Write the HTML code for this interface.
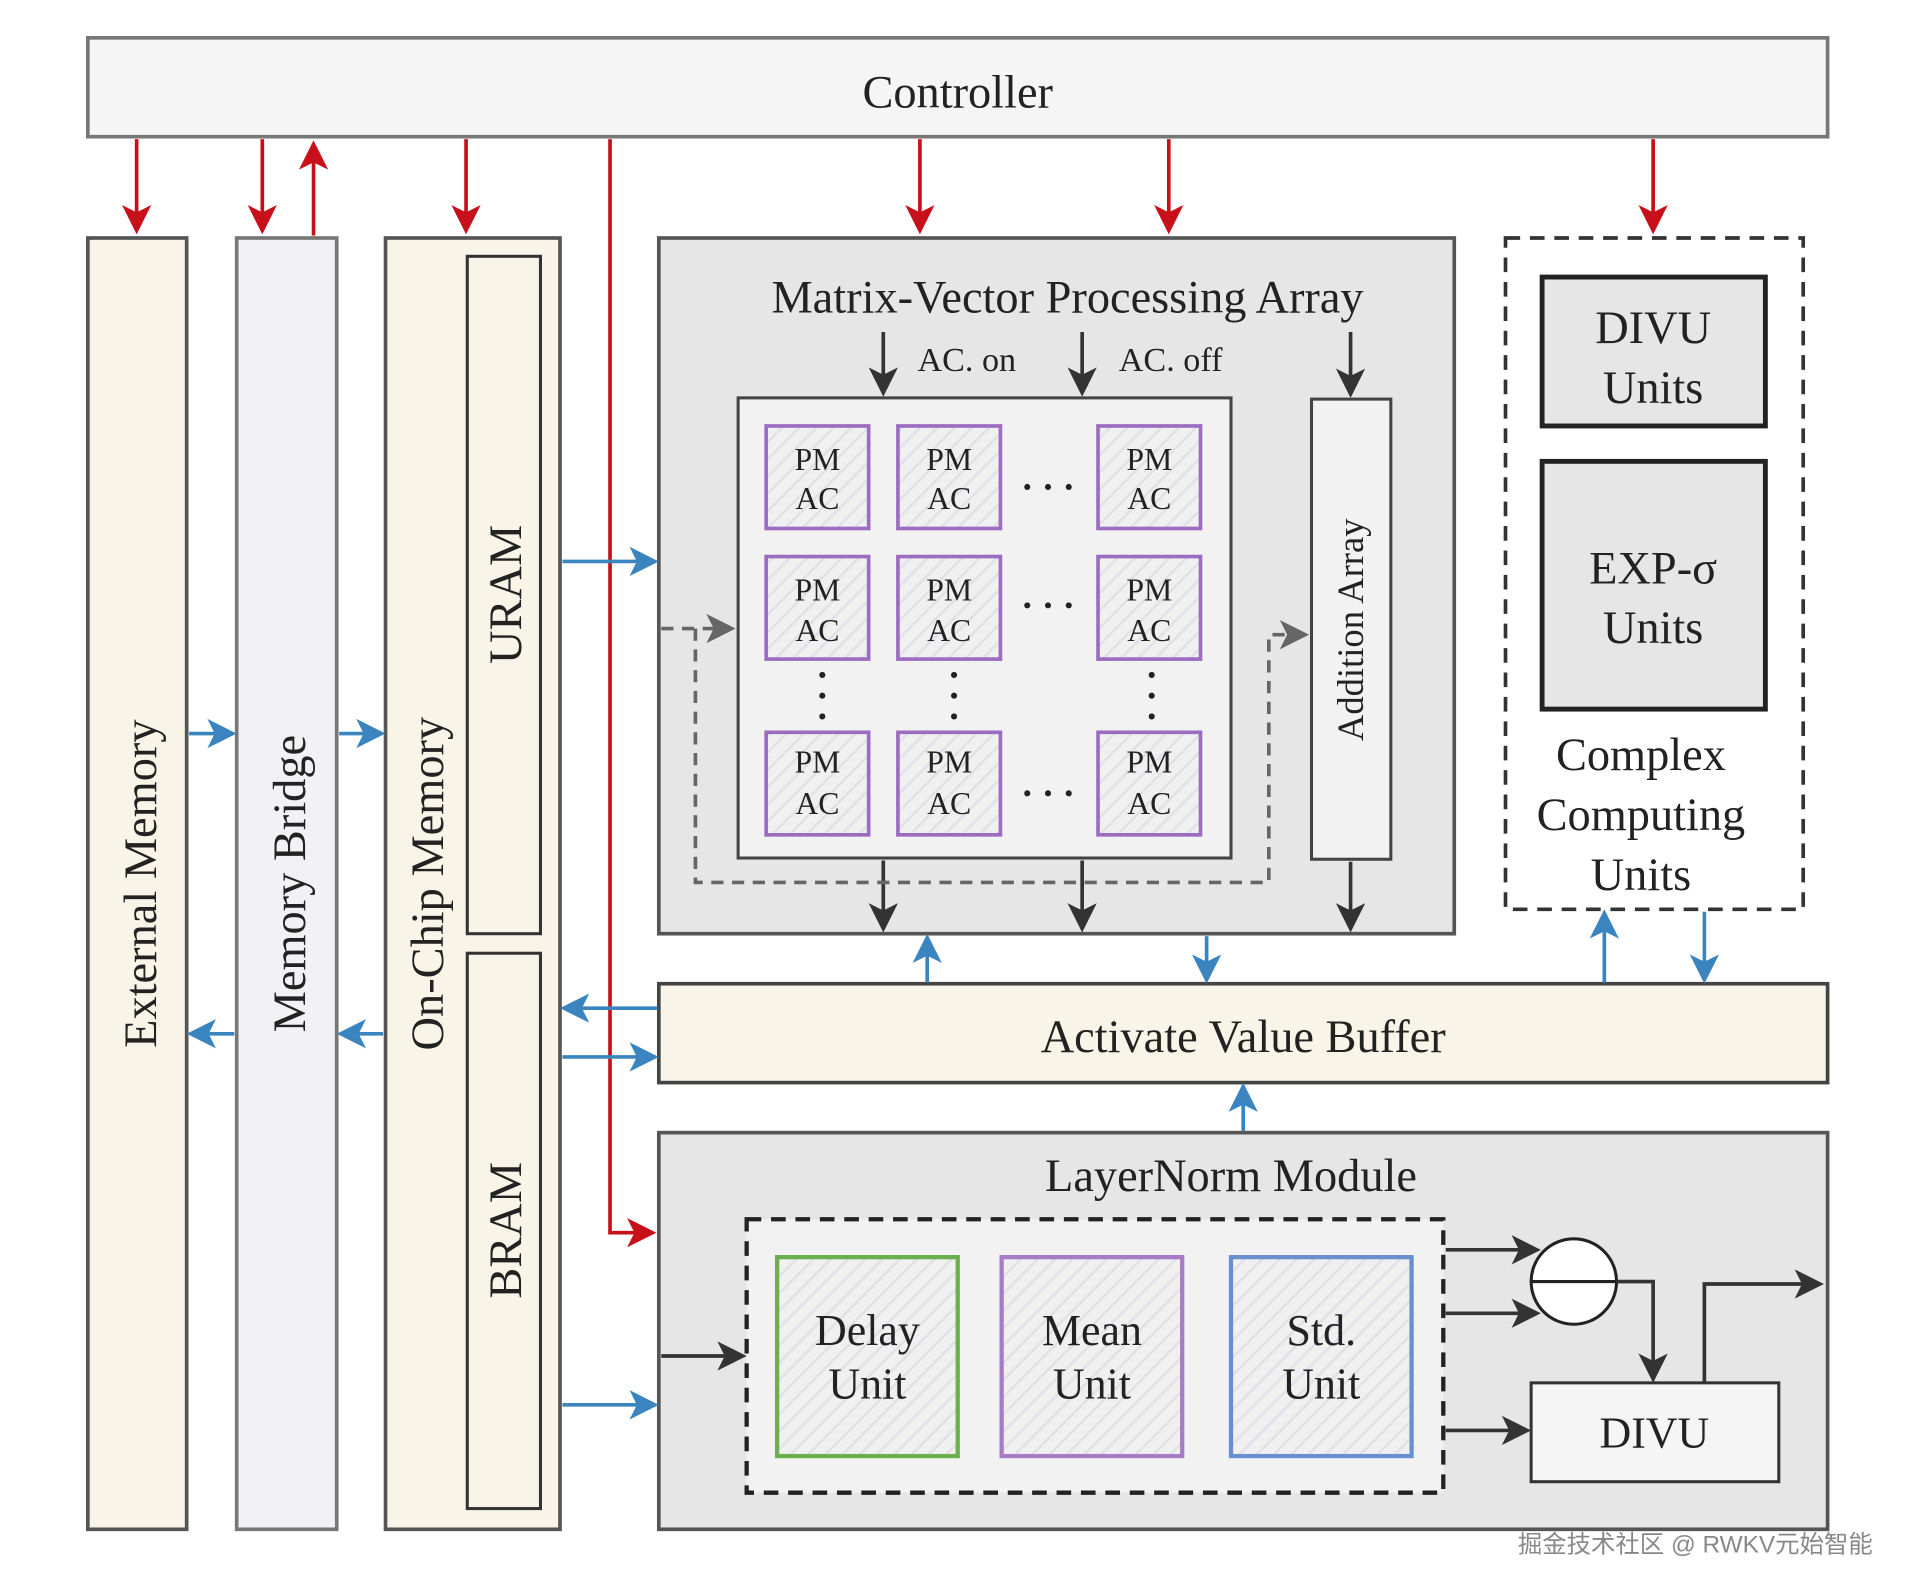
<!DOCTYPE html>
<html><head><meta charset="utf-8"><style>html,body{margin:0;padding:0;background:#fff}svg{display:block}</style></head><body>
<svg width="1913" height="1594" viewBox="0 0 1568 1306" preserveAspectRatio="none" xmlns="http://www.w3.org/2000/svg" font-family="Liberation Serif, serif">
<defs>
<marker id="r" markerWidth="8" markerHeight="8" refX="7" refY="4" orient="auto" viewBox="0 0 8 8"><path d="M0,0 L8,4 L0,8 L2,4 z" fill="#c8101a"/></marker>
<marker id="b" markerWidth="8" markerHeight="8" refX="7" refY="4" orient="auto" viewBox="0 0 8 8"><path d="M0,0 L8,4 L0,8 L2,4 z" fill="#3a85c0"/></marker>
<marker id="k" markerWidth="8" markerHeight="8" refX="7" refY="4" orient="auto" viewBox="0 0 8 8"><path d="M0,0 L8,4 L0,8 L2,4 z" fill="#333"/></marker>
<marker id="g" markerWidth="8" markerHeight="8" refX="7" refY="4" orient="auto" viewBox="0 0 8 8"><path d="M0,0 L8,4 L0,8 L2,4 z" fill="#666"/></marker>
<pattern id="h" width="10" height="10" patternUnits="userSpaceOnUse" patternTransform="rotate(45)"><rect width="10" height="10" fill="#f0f0f0"/><line x1="0" y1="0" x2="0" y2="10" stroke="#e0e0e8" stroke-width="4"/></pattern>
</defs>
<rect x="72" y="31" width="1426" height="81" fill="#f5f5f5" stroke="#777" stroke-width="3"/>
<text x="785" y="88" font-size="38" text-anchor="middle" fill="#222">Controller</text>
<rect x="72" y="195" width="81" height="1058" fill="#f8f5e8" stroke="#555" stroke-width="3"/>
<rect x="194" y="195" width="82" height="1058" fill="#f2f2f4" stroke="#777" stroke-width="3"/>
<rect x="316" y="195" width="143" height="1058" fill="#f8f5e8" stroke="#555" stroke-width="3"/>
<rect x="383" y="210" width="60" height="555" fill="#f8f5e8" stroke="#333" stroke-width="2.5"/>
<rect x="383" y="781" width="60" height="455" fill="#f8f5e8" stroke="#333" stroke-width="2.5"/>
<g font-size="38" fill="#222" text-anchor="middle">
<text transform="translate(128,724) rotate(-90)">External Memory</text>
<text transform="translate(250,724) rotate(-90)">Memory Bridge</text>
<text transform="translate(363,724) rotate(-90)">On-Chip Memory</text>
<text transform="translate(427,487) rotate(-90)">URAM</text>
<text transform="translate(427,1008) rotate(-90)">BRAM</text>
</g>
<rect x="540" y="195" width="652" height="570" fill="#e6e6e6" stroke="#555" stroke-width="3"/>
<text x="875" y="256" font-size="38" text-anchor="middle" fill="#222">Matrix-Vector Processing Array</text>
<text x="752" y="304" font-size="28" fill="#222">AC. on</text>
<text x="917" y="304" font-size="28" fill="#222">AC. off</text>
<rect x="605" y="326" width="404" height="377" fill="#f2f2f2" stroke="#444" stroke-width="2.5"/>
<g stroke="#9b6cc0" stroke-width="3" fill="url(#h)">
<rect x="628" y="349" width="84" height="84"/><rect x="736" y="349" width="84" height="84"/><rect x="900" y="349" width="84" height="84"/>
<rect x="628" y="456" width="84" height="84"/><rect x="736" y="456" width="84" height="84"/><rect x="900" y="456" width="84" height="84"/>
<rect x="628" y="600" width="84" height="84"/><rect x="736" y="600" width="84" height="84"/><rect x="900" y="600" width="84" height="84"/>
</g>
<g font-size="26" fill="#222" text-anchor="middle">
<text x="670" y="385">PM</text><text x="670" y="417">AC</text>
<text x="778" y="385">PM</text><text x="778" y="417">AC</text>
<text x="942" y="385">PM</text><text x="942" y="417">AC</text>
<text x="670" y="492">PM</text><text x="670" y="525">AC</text>
<text x="778" y="492">PM</text><text x="778" y="525">AC</text>
<text x="942" y="492">PM</text><text x="942" y="525">AC</text>
<text x="670" y="633">PM</text><text x="670" y="667">AC</text>
<text x="778" y="633">PM</text><text x="778" y="667">AC</text>
<text x="942" y="633">PM</text><text x="942" y="667">AC</text>
</g>
<g fill="#222">
<circle cx="842" cy="399" r="2.5"/><circle cx="859" cy="399" r="2.5"/><circle cx="876" cy="399" r="2.5"/>
<circle cx="842" cy="496" r="2.5"/><circle cx="859" cy="496" r="2.5"/><circle cx="876" cy="496" r="2.5"/>
<circle cx="842" cy="650" r="2.5"/><circle cx="859" cy="650" r="2.5"/><circle cx="876" cy="650" r="2.5"/>
<circle cx="674" cy="553" r="2.5"/><circle cx="674" cy="570" r="2.5"/><circle cx="674" cy="587" r="2.5"/>
<circle cx="782" cy="553" r="2.5"/><circle cx="782" cy="570" r="2.5"/><circle cx="782" cy="587" r="2.5"/>
<circle cx="944" cy="553" r="2.5"/><circle cx="944" cy="570" r="2.5"/><circle cx="944" cy="587" r="2.5"/>
</g>
<rect x="1075" y="327" width="65" height="377" fill="#f2f2f2" stroke="#444" stroke-width="2.5"/>
<text transform="translate(1117,516) rotate(-90)" font-size="30" text-anchor="middle" fill="#222">Addition Array</text>
<rect x="1234" y="195" width="244" height="550" fill="#fff" stroke="#333" stroke-width="3" stroke-dasharray="12,8"/>
<rect x="1264" y="227" width="183" height="122" fill="#e6e6e6" stroke="#222" stroke-width="4"/>
<rect x="1264" y="378" width="183" height="203" fill="#e6e6e6" stroke="#222" stroke-width="4"/>
<g font-size="38" fill="#222" text-anchor="middle">
<text x="1355" y="281">DIVU</text><text x="1355" y="330">Units</text>
<text x="1355" y="478">EXP-σ</text><text x="1355" y="527">Units</text>
<text x="1345" y="631">Complex</text><text x="1345" y="680">Computing</text><text x="1345" y="729">Units</text>
</g>
<rect x="540" y="806" width="958" height="81" fill="#f8f5e8" stroke="#444" stroke-width="3"/>
<text x="1019" y="862" font-size="38" text-anchor="middle" fill="#222">Activate Value Buffer</text>
<rect x="540" y="928" width="958" height="325" fill="#e6e6e6" stroke="#555" stroke-width="3"/>
<text x="1009" y="976" font-size="38" text-anchor="middle" fill="#222">LayerNorm Module</text>
<rect x="612" y="999" width="571" height="224" fill="#f2f2f2" stroke="#222" stroke-width="3.5" stroke-dasharray="12,8"/>
<rect x="637" y="1030" width="148" height="163" fill="url(#h)" stroke="#6ab04c" stroke-width="3.5"/>
<rect x="821" y="1030" width="148" height="163" fill="url(#h)" stroke="#a77bc5" stroke-width="3.5"/>
<rect x="1009" y="1030" width="148" height="163" fill="url(#h)" stroke="#6a8fd0" stroke-width="3.5"/>
<g font-size="36" fill="#222" text-anchor="middle">
<text x="711" y="1102">Delay</text><text x="711" y="1146">Unit</text>
<text x="895" y="1102">Mean</text><text x="895" y="1146">Unit</text>
<text x="1083" y="1102">Std.</text><text x="1083" y="1146">Unit</text>
</g>
<circle cx="1290" cy="1050" r="35" fill="#fff" stroke="#222" stroke-width="2.5"/>
<line x1="1255" y1="1050" x2="1325" y2="1050" stroke="#222" stroke-width="2.5"/>
<rect x="1255" y="1133" width="203" height="81" fill="#f5f5f5" stroke="#333" stroke-width="2.5"/>
<text x="1356" y="1186" font-size="36" text-anchor="middle" fill="#222">DIVU</text>
<g stroke="#c8101a" stroke-width="3" fill="none" marker-end="url(#r)">
<line x1="112" y1="114" x2="112" y2="189"/><line x1="215" y1="114" x2="215" y2="189"/>
<line x1="257" y1="193" x2="257" y2="118"/><line x1="382" y1="114" x2="382" y2="189"/>
<line x1="754" y1="114" x2="754" y2="189"/><line x1="958" y1="114" x2="958" y2="189"/>
<line x1="1355" y1="114" x2="1355" y2="189"/>
<polyline points="500,114 500,1010 535,1010"/>
</g>
<g stroke="#3a85c0" stroke-width="3" fill="none" marker-end="url(#b)">
<line x1="461" y1="460" x2="537" y2="460"/><line x1="155" y1="601" x2="191" y2="601"/>
<line x1="278" y1="601" x2="313" y2="601"/><line x1="192" y1="847" x2="156" y2="847"/>
<line x1="314" y1="847" x2="279" y2="847"/><line x1="539" y1="826" x2="462" y2="826"/>
<line x1="461" y1="866" x2="537" y2="866"/><line x1="461" y1="1151" x2="537" y2="1151"/>
<line x1="760" y1="805" x2="760" y2="768"/><line x1="989" y1="767" x2="989" y2="803"/>
<line x1="1315" y1="805" x2="1315" y2="748"/><line x1="1397" y1="747" x2="1397" y2="803"/>
<line x1="1019" y1="927" x2="1019" y2="890"/>
</g>
<g stroke="#333" stroke-width="3" fill="none" marker-end="url(#k)">
<line x1="724" y1="272" x2="724" y2="322"/><line x1="887" y1="272" x2="887" y2="322"/>
<line x1="1107" y1="272" x2="1107" y2="323"/><line x1="724" y1="705" x2="724" y2="761"/>
<line x1="887" y1="705" x2="887" y2="761"/><line x1="1107" y1="706" x2="1107" y2="761"/>
<line x1="542" y1="1111" x2="609" y2="1111"/><line x1="1185" y1="1024" x2="1260" y2="1024"/>
<line x1="1185" y1="1076" x2="1260" y2="1076"/><line x1="1185" y1="1172" x2="1252" y2="1172"/>
<polyline points="1325,1050 1355,1050 1355,1130"/><polyline points="1397,1133 1397,1052 1492,1052"/>
</g>
<g stroke="#666" stroke-width="3" fill="none" stroke-dasharray="10,7">
<polyline points="542,515 600,515" marker-end="url(#g)"/>
<polyline points="570,515 570,723 1040,723 1040,520 1070,520" marker-end="url(#g)"/>
</g>
<text x="1535" y="1272" font-size="20" text-anchor="end" fill="#888" font-family="Liberation Sans, Noto Sans CJK SC, sans-serif">掘金技术社区 @ RWKV元始智能</text>
</svg>
</body></html>
